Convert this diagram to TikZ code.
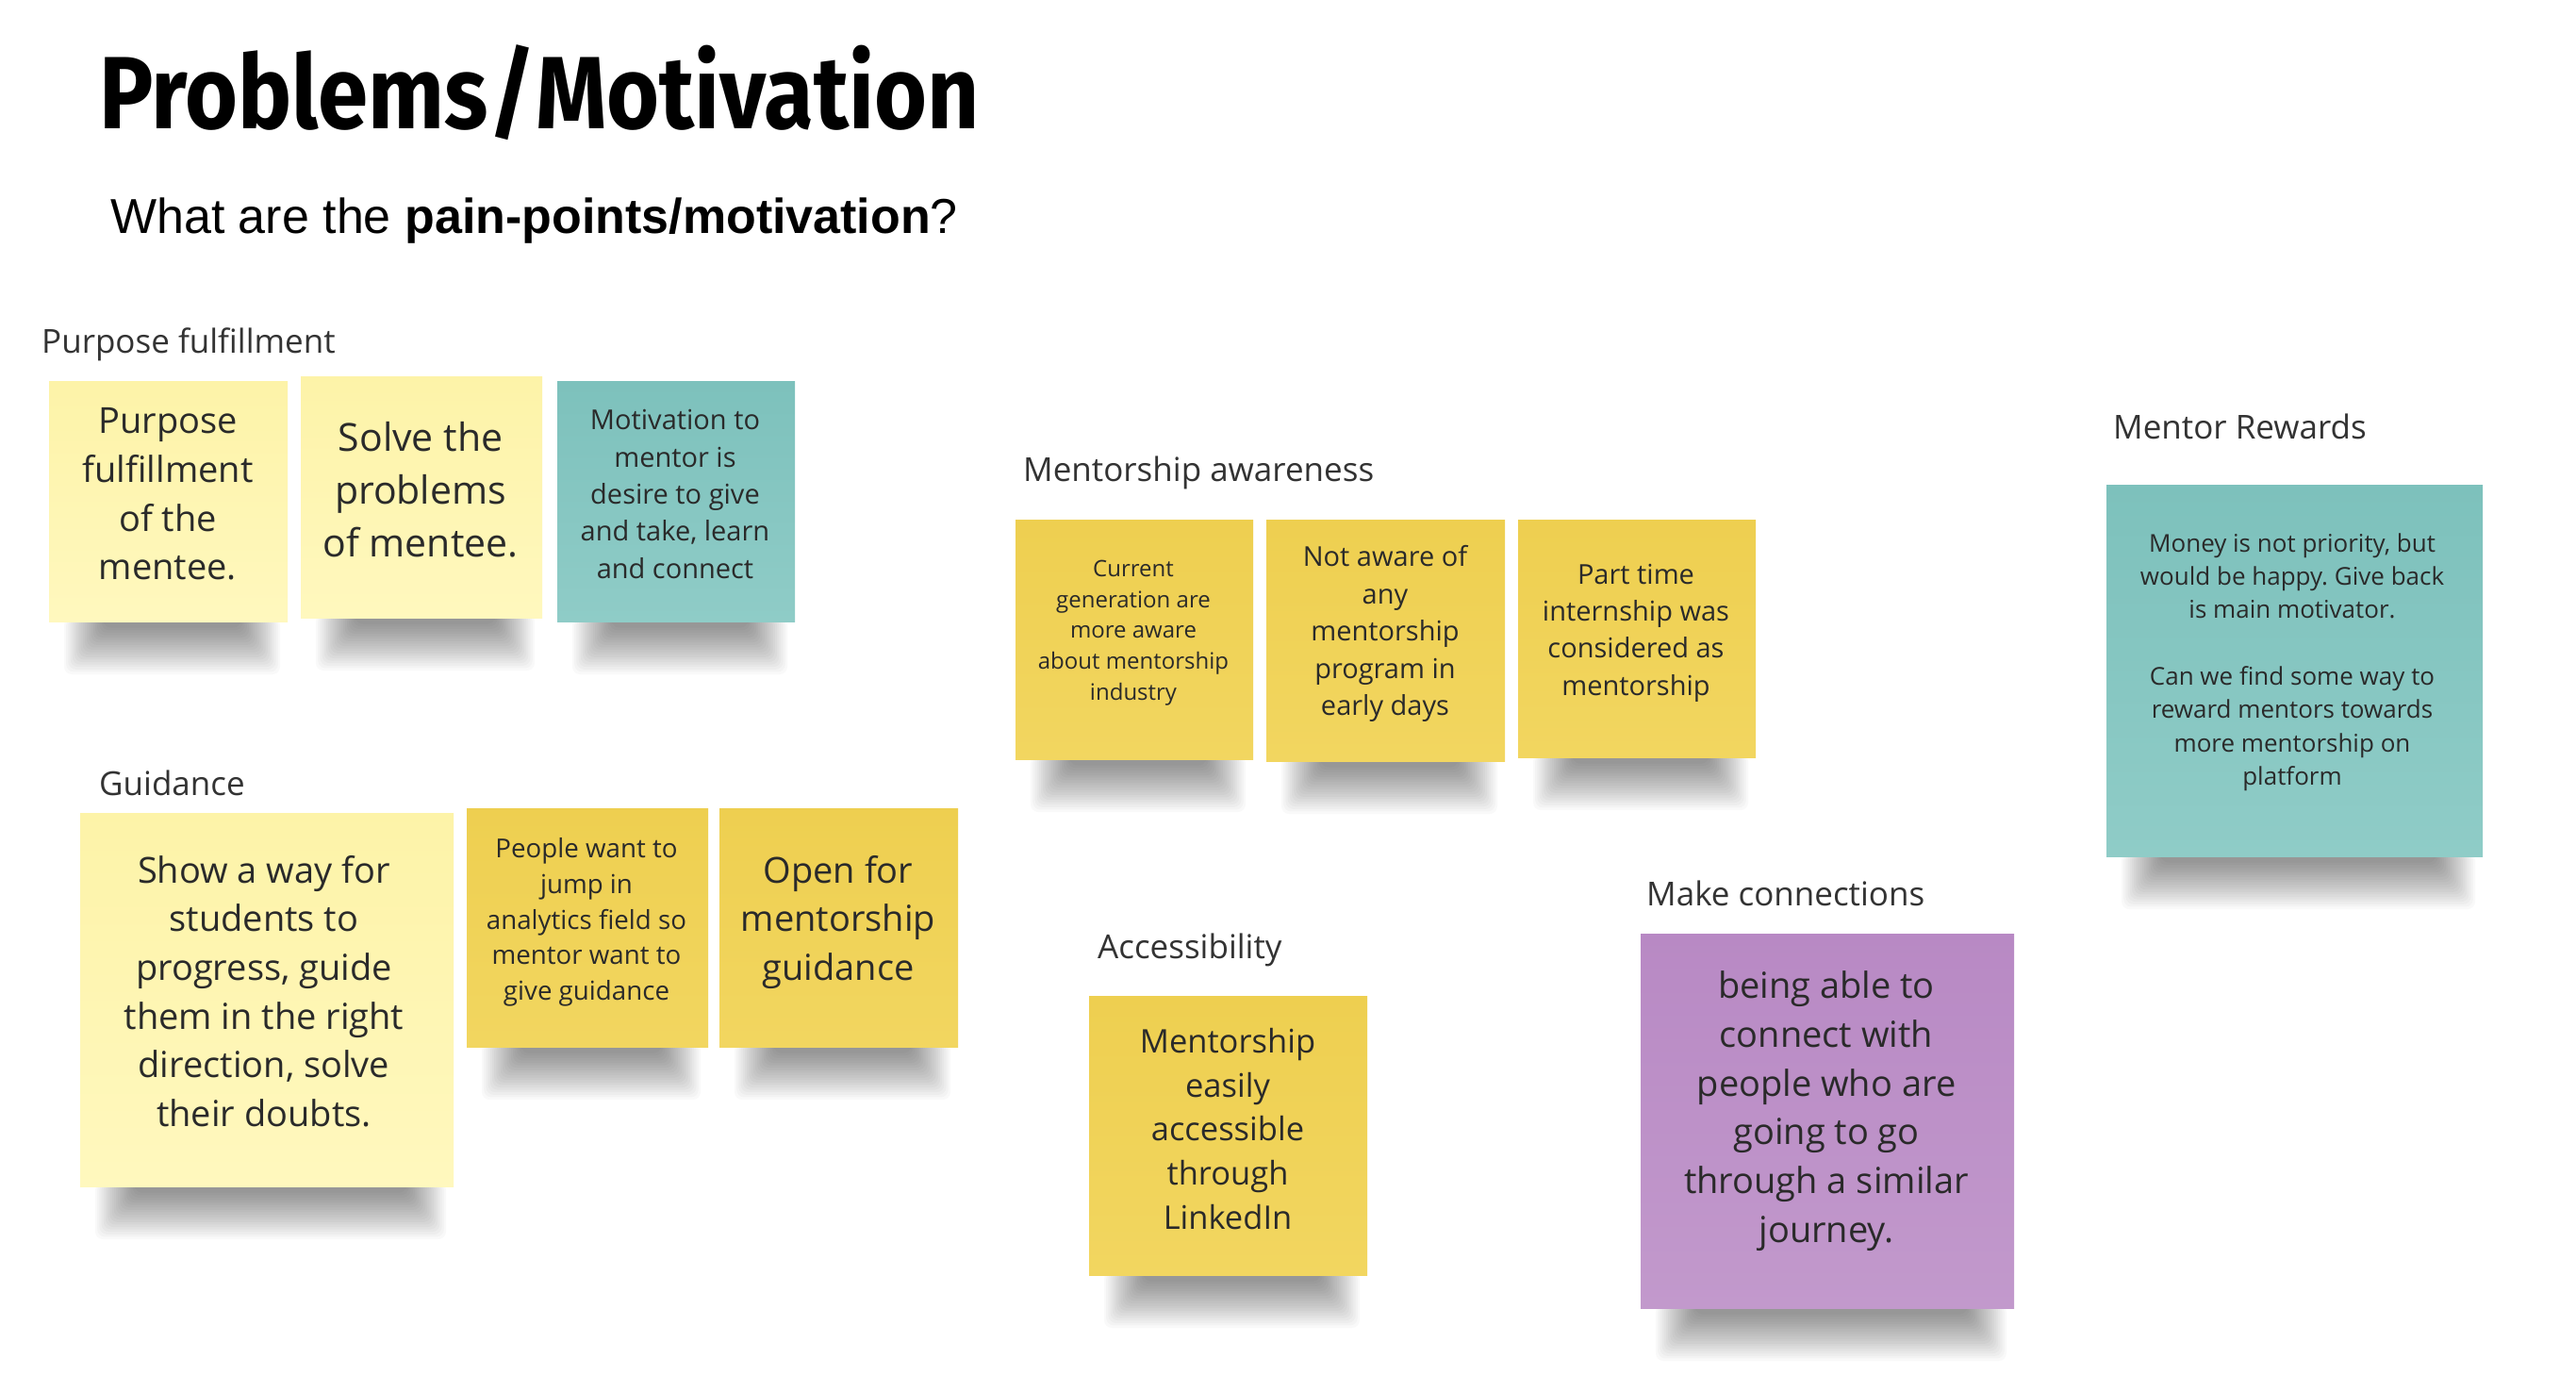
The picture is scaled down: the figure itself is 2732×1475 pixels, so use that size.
\documentclass[tikz,border=0pt]{standalone}
\usepackage{fontspec}
\setmainfont{Open Sans}
\newfontfamily\titlefont{Fira Sans}
\newfontfamily\arialfont{Liberation Sans}
\frenchspacing
\definecolor{paleTop}{HTML}{FDF3A8}
\definecolor{paleBot}{HTML}{FFF8BE}
\definecolor{yelTop}{HTML}{EECF50}
\definecolor{yelBot}{HTML}{F2D660}
\definecolor{tealTop}{HTML}{7DC1BC}
\definecolor{tealBot}{HTML}{8FCCC7}
\definecolor{purTop}{HTML}{B889C4}
\definecolor{purBot}{HTML}{C299CC}
\definecolor{ink}{HTML}{2A2A2A}
\definecolor{lab}{HTML}{333333}
\newcommand\stickyshadow[3]{%
  \foreach \i in {0,...,19}{%
    \fill[black,opacity=0.022,rounded corners=8pt]
      ({#1+16+2.2*\i},{#3-4}) rectangle ({#2-8-2.2*\i},{#3+56-2.6*\i});}}
\newcommand\fs[1]{\fontsize{#1pt}{\dimexpr #1pt*136/100\relax}\selectfont}
\tikzset{
  note/.style={rectangle, inner sep=0pt, draw=none},
  pale/.style={note, top color=paleTop, bottom color=paleBot},
  yel/.style={note, top color=yelTop, bottom color=yelBot},
  teal/.style={note, top color=tealTop, bottom color=tealBot},
  purp/.style={note, top color=purTop, bottom color=purBot},
  txt/.style={inner sep=0pt, align=center, text=ink},
  grp/.style={inner sep=0pt, anchor=base west, text=lab, font=\fontsize{35}{42}\selectfont},
}
\begin{document}
\begin{tikzpicture}[x=1pt,y=-1pt]
\useasboundingbox[fill=white] (0,0) rectangle (2732,1475);

% title
\node[inner sep=0pt, anchor=base west] (title) at (105,136)
  {\scalebox{0.88}[1]{\titlefont\bfseries\fontsize{109}{120}\selectfont Problems/Motivation}};
\node[inner sep=0pt, anchor=base west] (sub) at (117,247)
  {\arialfont\fontsize{52}{60}\selectfont What are the \textbf{pain-points/motivation}?};

% group labels
\node[grp] (gPurpose) at (44,374) {Purpose fulfillment};
\node[grp] (gAware) at (1085,510) {Mentorship awareness};
\node[grp] (gReward) at (2241,465) {Mentor Rewards};
\node[grp] (gGuide) at (105,843) {Guidance};
\node[grp] (gAccess) at (1164,1016) {Accessibility};
\node[grp] (gConnect) at (1746,960) {Make connections};

% shadows
\stickyshadow{52}{305}{659}
\stickyshadow{319}{575}{655}
\stickyshadow{591}{843}{659}
\stickyshadow{1077}{1329}{805}
\stickyshadow{1343}{1596}{807}
\stickyshadow{1610}{1862}{803}
\stickyshadow{2234}{2633}{908}
\stickyshadow{85}{481}{1258}
\stickyshadow{495}{751}{1110}
\stickyshadow{763}{1016}{1110}
\stickyshadow{1155}{1450}{1352}
\stickyshadow{1740}{2136}{1387}

% notes
\node[pale, minimum width=253pt, minimum height=255pt] (n1) at (178.5,531.5) {};
\node[pale, minimum width=256pt, minimum height=256pt] (n2) at (447,527) {};
\node[teal, minimum width=252pt, minimum height=255pt] (n3) at (717,531.5) {};
\node[yel, minimum width=252pt, minimum height=254pt] (n4) at (1203,678) {};
\node[yel, minimum width=253pt, minimum height=256pt] (n5) at (1469.5,679) {};
\node[yel, minimum width=252pt, minimum height=252pt] (n6) at (1736,677) {};
\node[teal, minimum width=399pt, minimum height=394pt] (n7) at (2433.5,711) {};
\node[pale, minimum width=396pt, minimum height=396pt] (n8) at (283,1060) {};
\node[yel, minimum width=256pt, minimum height=253pt] (n9) at (623,983.5) {};
\node[yel, minimum width=253pt, minimum height=253pt] (n10) at (889.5,983.5) {};
\node[yel, minimum width=295pt, minimum height=296pt] (n11) at (1302.5,1204) {};
\node[purp, minimum width=396pt, minimum height=397pt] (n12) at (1938,1188.5) {};

% texts
\node[txt, font=\fs{38}] (t1) at (178,524) {Purpose\\fulfillment\\of the\\mentee.};
\node[txt, font=\fs{41}] (t2) at (446,519) {Solve the\\problems\\of mentee.};
\node[txt, font=\fs{29}] (t3) at (716,524) {Motivation to\\mentor is\\desire to give\\and take, learn\\and connect};
\node[txt, font=\fs{24}] (t4) at (1202,671) {Current\\generation are\\more aware\\about mentorship\\industry};
\node[txt, font=\fs{29}] (t5) at (1469,672) {Not aware of\\any\\mentorship\\program in\\early days};
\node[txt, font=\fs{29}] (t6) at (1735,671) {Part time\\internship was\\considered as\\mentorship};
\node[txt, font=\fs{26}] (t7) at (2431,702) {Money is not priority, but\\would be happy. Give back\\is main motivator.\\[\baselineskip]Can we find some way to\\reward mentors towards\\more mentorship on\\platform};
\node[txt, font=\fs{38}] (t8) at (280,1051) {Show a way for\\students to\\progress, guide\\them in the right\\direction, solve\\their doubts.};
\node[txt, font=\fs{27.7}] (t9) at (622,978) {People want to\\jump in\\analytics field so\\mentor want to\\give guidance};
\node[txt, font=\fs{38}] (t10) at (889,978) {Open for\\mentorship\\guidance};
\node[txt, font=\fs{34.5}] (t11) at (1302,1197) {Mentorship\\easily\\accessible\\through\\LinkedIn};
\node[txt, font=\fs{38}] (t12) at (1937,1178) {being able to\\connect with\\people who are\\going to go\\through a similar\\journey.};
\end{tikzpicture}
\end{document}
